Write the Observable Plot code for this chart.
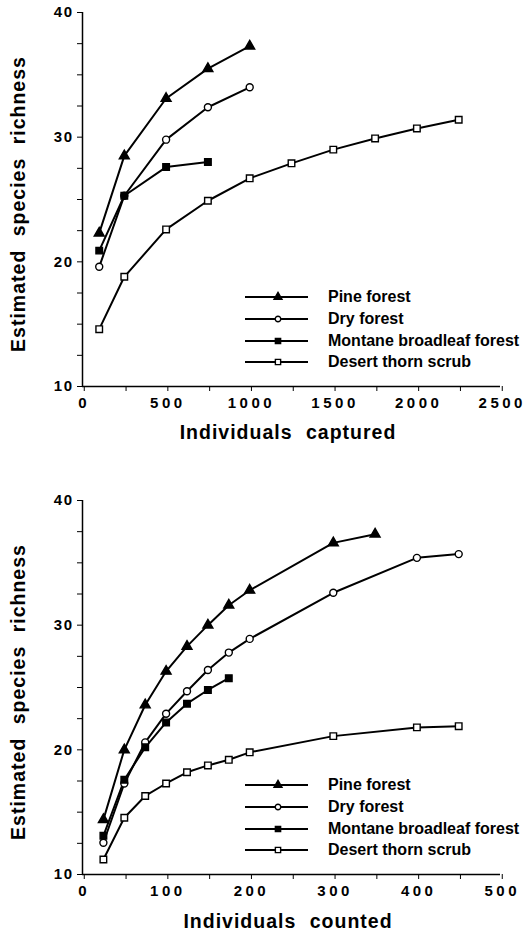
<!DOCTYPE html>
<html><head><meta charset="utf-8">
<script src="https://cdn.jsdelivr.net/npm/d3@7"></script>
<script src="https://cdn.jsdelivr.net/npm/@observablehq/plot@0.6"></script>
<style>
body{margin:0;background:#fff;}
#wrap{position:relative;width:531px;height:937px;font-family:"Liberation Sans",Arial,sans-serif;font-weight:bold;color:#000;overflow:hidden;}
.panel{position:absolute;left:0;}
.title{position:absolute;font-size:19.5px;letter-spacing:1px;word-spacing:7px;white-space:nowrap;line-height:1;}
.ytitle{transform:translate(-50%,-50%) rotate(-90deg);}
.xtitle{transform:translate(-50%,-50%);}
.legrow{position:absolute;height:16px;display:flex;align-items:center;font-size:16px;white-space:nowrap;transform:translateY(-50%);}
.legrow svg{margin-right:20px;}
.chart g[aria-label="x-axis tick label"] text{letter-spacing:3.5px;}
.chart g[aria-label="y-axis tick label"] text{letter-spacing:1.5px;}
</style>
</head><body>
<div id="wrap"></div>
<script>
// ---- series meta ----
const names = ["Pine forest", "Dry forest", "Montane broadleaf forest", "Desert thorn scrub"];
const symbols = ["triangle", "circle", "square", "square"];
const fills = ["black", "white", "black", "white"];
const sizes = [3.7, 3.5, 3.7, 3.7];

// ---- top panel: individuals captured ----
const capX_pine = [100, 250, 500, 750, 1000];
const capY_pine = [22.3, 28.5, 33.1, 35.5, 37.3];
const capX_dry = [100, 250, 500, 750, 1000];
const capY_dry = [19.6, 25.3, 29.8, 32.4, 34.0];
const capX_montane = [100, 250, 500, 750];
const capY_montane = [20.9, 25.3, 27.6, 28.0];
const capX_desert = [100, 250, 500, 750, 1000, 1250, 1500, 1750, 2000, 2250];
const capY_desert = [14.6, 18.8, 22.6, 24.9, 26.7, 27.9, 29.0, 29.9, 30.7, 31.4];
const capXTicks = [0, 250, 500, 750, 1000, 1250, 1500, 1750, 2000, 2250, 2500];
const capXLabels = [0, 500, 1000, 1500, 2000, 2500];

// ---- bottom panel: individuals counted ----
const cntX_pine = [25, 50, 75, 100, 125, 150, 175, 200, 300, 350];
const cntY_pine = [14.4, 20.0, 23.6, 26.3, 28.3, 30.0, 31.6, 32.8, 36.6, 37.3];
const cntX_dry = [25, 50, 75, 100, 125, 150, 175, 200, 300, 400, 450];
const cntY_dry = [12.55, 17.3, 20.6, 22.9, 24.7, 26.4, 27.8, 28.9, 32.6, 35.4, 35.7];
const cntX_montane = [25, 50, 75, 100, 125, 150, 175];
const cntY_montane = [13.1, 17.6, 20.2, 22.2, 23.7, 24.8, 25.75];
const cntX_desert = [25, 50, 75, 100, 125, 150, 175, 200, 300, 400, 450];
const cntY_desert = [11.2, 14.55, 16.3, 17.3, 18.2, 18.75, 19.2, 19.8, 21.1, 21.8, 21.9];
const cntXTicks = [0, 50, 100, 150, 200, 250, 300, 350, 400, 450, 500];
const cntXLabels = [0, 100, 200, 300, 400, 500];

// ---- shared y axis ----
const yTicks = [10, 12.5, 15, 17.5, 20, 22.5, 25, 27.5, 30, 32.5, 35, 37.5, 40];
const yLabels = [10, 20, 30, 40];

const yTitle = "Estimated species richness";
const capTitle = "Individuals captured";
const cntTitle = "Individuals counted";

function rows(xs, ys, i) { return xs.map((x, k) => ({x, y: ys[k], s: names[i]})); }

const capSeries = [rows(capX_pine, capY_pine, 0), rows(capX_dry, capY_dry, 1), rows(capX_montane, capY_montane, 2), rows(capX_desert, capY_desert, 3)];
const cntSeries = [rows(cntX_pine, cntY_pine, 0), rows(cntX_dry, cntY_dry, 1), rows(cntX_montane, cntY_montane, 2), rows(cntX_desert, cntY_desert, 3)];

const drawOrder = [3, 1, 2, 0];

function makeChart({series, height, marginTop, marginBottom, xMax, xTicks, xLabels}) {
  const marks = [];
  for (const i of drawOrder) marks.push(Plot.line(series[i], {x: "x", y: "y", stroke: "black", strokeWidth: 2}));
  for (const i of drawOrder) marks.push(Plot.dot(series[i], {x: "x", y: "y", symbol: () => symbols[i], r: sizes[i], fill: fills[i], stroke: "black", strokeWidth: 1.4}));
  marks.push(Plot.ruleX([0], {stroke: "black", strokeWidth: 1.5}));
  marks.push(Plot.ruleY([10], {stroke: "black", strokeWidth: 1.5}));
  marks.push(Plot.axisY({ticks: yTicks, tickFormat: d => yLabels.includes(d) ? String(d) : "", tickSize: 5, tickPadding: 4, label: null, fontSize: 15, fontWeight: "bold"}));
  marks.push(Plot.axisX({ticks: xTicks, tickFormat: d => xLabels.includes(d) ? String(d) : "", tickSize: 5, tickPadding: 6, label: null, fontSize: 15, fontWeight: "bold", dx: 1.75}));
  return Plot.plot({
    width: 531, height, marginTop, marginBottom, marginLeft: 82, marginRight: 31,
    className: "chart",
    style: {fontFamily: '"Liberation Sans", Arial, sans-serif', fontWeight: "bold", color: "black", background: "white", overflow: "visible"},
    x: {domain: [0, xMax]},
    y: {domain: [10, 40]},
    symbol: {type: "identity"},
    marks
  });
}

const wrap = document.getElementById("wrap");

function addPanel(top, chartOpts, title, titleY, yTitleY, legendY) {
  const p = document.createElement("div");
  p.className = "panel"; p.style.top = top + "px";
  p.appendChild(makeChart(chartOpts));
  wrap.appendChild(p);
  const yt = document.createElement("div");
  yt.className = "title ytitle"; yt.textContent = yTitle;
  yt.style.left = "19px"; yt.style.top = yTitleY + "px";
  wrap.appendChild(yt);
  const xt = document.createElement("div");
  xt.className = "title xtitle"; xt.textContent = title;
  xt.style.left = "288px"; xt.style.top = titleY + "px";
  wrap.appendChild(xt);
  names.forEach((n, i) => {
    const r = document.createElement("div");
    r.className = "legrow";
    r.style.left = "245px"; r.style.top = (legendY + i * 21.8) + "px";
    const svg = d3.create("svg").attr("width", 63).attr("height", 14);
    svg.append("line").attr("x1", 0).attr("x2", 63).attr("y1", 7).attr("y2", 7).attr("stroke", "black").attr("stroke-width", 2);
    const type = {triangle: d3.symbolTriangle, circle: d3.symbolCircle, square: d3.symbolSquare}[symbols[i]];
    const s = sizes[i] * 0.8;
    svg.append("path").attr("transform", "translate(33,7)")
      .attr("d", d3.symbol(type, Math.PI * s * s)())
      .attr("fill", fills[i]).attr("stroke", "black").attr("stroke-width", 1.4);
    r.appendChild(svg.node());
    const t = document.createElement("span"); t.textContent = n;
    r.appendChild(t);
    wrap.appendChild(r);
  });
}

addPanel(0, {series: capSeries, height: 460, marginTop: 12, marginBottom: 74, xMax: 2500, xTicks: capXTicks, xLabels: capXLabels}, capTitle, 433, 204, 297);
addPanel(460, {series: cntSeries, height: 477, marginTop: 40, marginBottom: 63, xMax: 500, xTicks: cntXTicks, xLabels: cntXLabels}, cntTitle, 922, 692, 785);
</script>
</body></html>
